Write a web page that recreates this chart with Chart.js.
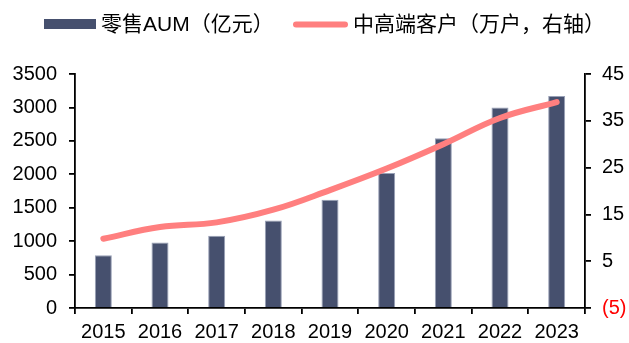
<!DOCTYPE html>
<html>
<head>
<meta charset="utf-8">
<script src="https://cdn.jsdelivr.net/npm/chart.js"></script>
<style>
    html, body { margin: 0; padding: 0; background: #fff; }
    #wrap { width: 629px; height: 343px; position: relative; }
</style>
</head>
<body>
<div id="wrap"><canvas id="aumChart"></canvas></div>
<script>
// Dados do gráfico
const anos = ['2015', '2016', '2017', '2018', '2019', '2020', '2021', '2022', '2023'];
const aumVarejo = [790, 980, 1080, 1310, 1620, 2020, 2540, 3000, 3170];   // 亿元
const clientesAlta = [9.8, 12.3, 13.3, 16.0, 20.2, 24.8, 30.0, 35.6, 39.0]; // 万户

const serieNomes = ['零售AUM（亿元）', '中高端客户（万户，右轴）'];

const corBarra = '#46506E';
const corLinha = '#FF7F7F';
const fonteEixo = { family: "'Liberation Sans', Arial, sans-serif", size: 20 };

// Legenda desenhada à mão no topo
const legendaPlugin = {
    id: 'legendaTopo',
    afterDraw(chart) {
        const ctx = chart.ctx;
        ctx.save();
        ctx.font = "21px 'Liberation Sans', 'Noto Sans CJK SC', sans-serif";
        ctx.textBaseline = 'middle';

        // barra
        ctx.fillStyle = corBarra;
        ctx.fillRect(44, 19, 52, 10);
        ctx.fillStyle = '#000';
        ctx.fillText(serieNomes[0], 101, 25.5);

        // linha
        ctx.strokeStyle = corLinha;
        ctx.lineWidth = 6;
        ctx.lineCap = 'round';
        ctx.beginPath();
        ctx.moveTo(296, 24.5);
        ctx.lineTo(345, 24.5);
        ctx.stroke();
        ctx.fillText(serieNomes[1], 353, 25.5);
        ctx.restore();
    }
};

const ctx = document.getElementById('aumChart').getContext('2d');

new Chart(ctx, {
    type: 'bar',
    data: {
        labels: anos,
        datasets: [
            {
                type: 'line',
                label: serieNomes[1],
                data: clientesAlta,
                yAxisID: 'y1',
                borderColor: corLinha,
                borderWidth: 6,
                borderCapStyle: 'round',
                tension: 0.4,
                pointRadius: 0,
                fill: false,
                order: 0
            },
            {
                type: 'bar',
                label: serieNomes[0],
                data: aumVarejo,
                yAxisID: 'y',
                backgroundColor: corBarra,
                borderColor: '#98A0B6',
                borderWidth: 1,
                barPercentage: 0.3,
                categoryPercentage: 1,
                order: 1
            }
        ]
    },
    options: {
        responsive: true,
        maintainAspectRatio: false,
        animation: false,
        layout: { padding: { top: 74, left: 0, right: 0, bottom: 0 } },
        plugins: {
            legend: { display: false },
            tooltip: { enabled: false }
        },
        scales: {
            x: {
                offset: true,
                grid: {
                    offset: true,
                    drawOnChartArea: false,
                    drawTicks: true,
                    tickLength: 6,
                    color: '#000',
                    lineWidth: 1.8
                },
                border: { color: '#000', width: 1.8 },
                ticks: { color: '#000', font: fonteEixo, padding: 6, maxRotation: 0 },
                afterFit(s) { s.height = 35; }
            },
            y: {
                position: 'left',
                min: 0,
                max: 3500,
                ticks: {
                    stepSize: 500,
                    color: '#000',
                    font: fonteEixo,
                    padding: 12,
                    callback: v => String(v)
                },
                grid: {
                    drawOnChartArea: false,
                    drawTicks: true,
                    tickLength: 6,
                    color: '#000',
                    lineWidth: 1.8
                },
                border: { color: '#000', width: 1.8 },
                afterFit(s) { s.width = 75; }
            },
            y1: {
                position: 'right',
                min: -5,
                max: 45,
                ticks: {
                    stepSize: 10,
                    font: fonteEixo,
                    padding: 11,
                    color: c => (c.tick && c.tick.value < 0 ? '#FF0000' : '#000'),
                    callback: v => (v < 0 ? '(' + Math.abs(v) + ')' : String(v))
                },
                grid: {
                    drawOnChartArea: false,
                    drawTicks: true,
                    tickLength: 6,
                    color: '#000',
                    lineWidth: 1.8
                },
                border: { color: '#000', width: 1.8 },
                afterFit(s) { s.width = 44; }
            }
        }
    },
    plugins: [legendaPlugin]
});
</script>
</body>
</html>
